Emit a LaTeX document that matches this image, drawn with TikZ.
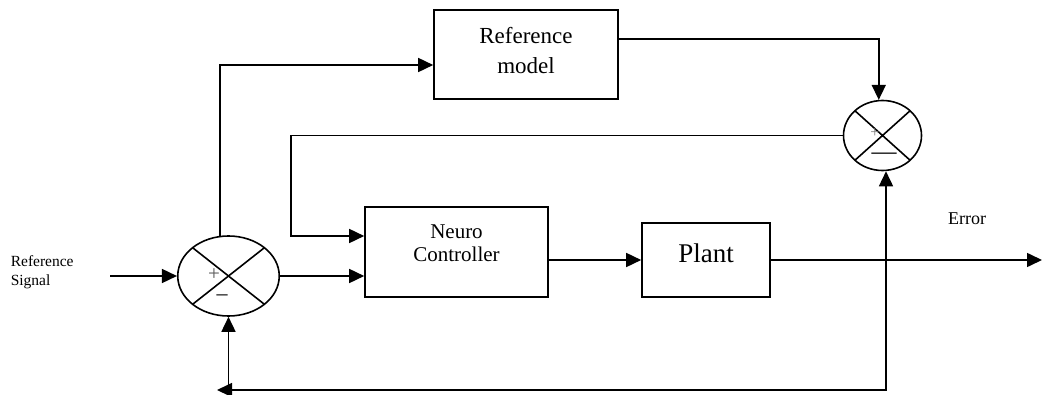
\documentclass[tikz,border=0pt]{standalone}
\usepackage{fontspec}
\setmainfont{Liberation Serif}
\usetikzlibrary{arrows.meta,shapes.geometric,calc}
\begin{document}
\begin{tikzpicture}[x=1pt,y=-1pt,
  line width=1.6pt,
  arr/.style={-{Triangle[length=15pt,width=14pt]}},
  blk/.style={draw,rectangle,inner sep=0pt},
  sumj/.style={draw,ellipse,inner sep=0pt,
    path picture={\draw[line width=1.6pt]
      (path picture bounding box.north west) -- (path picture bounding box.south east)
      (path picture bounding box.north east) -- (path picture bounding box.south west);}},
  lbl/.style={inner sep=0pt,align=center},
]
\useasboundingbox (0,0) rectangle (1044,395);

% summing junctions
\node[sumj,minimum width=101.5pt,minimum height=80pt] (s1) at (228.5,276) {};
\node[sumj,minimum width=78pt,minimum height=70pt] (s2) at (882.5,135.5) {};

% signs inside the junctions
\node[lbl,text=black!65,font=\fontsize{21}{21}\selectfont] (s1p) at (214,275) {+};
\node[lbl,font=\fontsize{22}{22}\selectfont] (s1m) at (222,298) {--};
\node[lbl,text=black!50,font=\fontsize{16}{16}\selectfont] (s2p) at (875,133) {+};
\node[lbl,font=\fontsize{25}{25}\selectfont] (s2m) at (884,156) {---};

% blocks
\node[blk,minimum width=184pt,minimum height=89pt] (rm) at (526,54.5) {};
\node[lbl,font=\fontsize{23}{30}\selectfont] (rmt) at (526,51) {Reference\\model};
\node[blk,minimum width=183pt,minimum height=90pt] (nc) at (456.5,252) {};
\node[lbl,font=\fontsize{21}{23}\selectfont] (nct) at (456.5,243) {Neuro\\Controller};
\node[blk,minimum width=128pt,minimum height=74pt] (pl) at (706,260) {};
\node[lbl,font=\fontsize{27}{27}\selectfont] (plt) at (706,253) {Plant};

% free labels
\node[lbl,align=left,anchor=west,font=\fontsize{15.5}{19}\selectfont] (rs) at (10,272) {Reference\\Signal};
\node[lbl,font=\fontsize{18}{18}\selectfont] (err) at (967,219) {Error};

% helper points
\coordinate (in) at (110,276);
\coordinate (out) at (1042,260);
\coordinate (rmo) at (618,39);
\coordinate (fb) at (291,236);
\coordinate (j) at (886,260);
\coordinate (bl) at (217,390);

% connectors
\draw[arr] (in) -- (s1.west);
\draw[arr] (s1.east) -- (s1.east -| nc.west);
\draw[arr] (s1.102) |- ($(rm.west)+(0,10.5)$);
\draw[arr] (rmo) -| (s2.96);
\draw[arr] (s2.west) -| (fb) -- (fb -| nc.west);
\draw[arr] (nc.east |- pl.west) -- (pl.west);
\draw[arr] (pl.east) -- (out);
\draw[arr] (j) -- (j |- s2.south);
\draw[arr] (j) |- (bl);
\draw[arr] (s1.south |- bl) -- (s1.south);
\end{tikzpicture}
\end{document}
